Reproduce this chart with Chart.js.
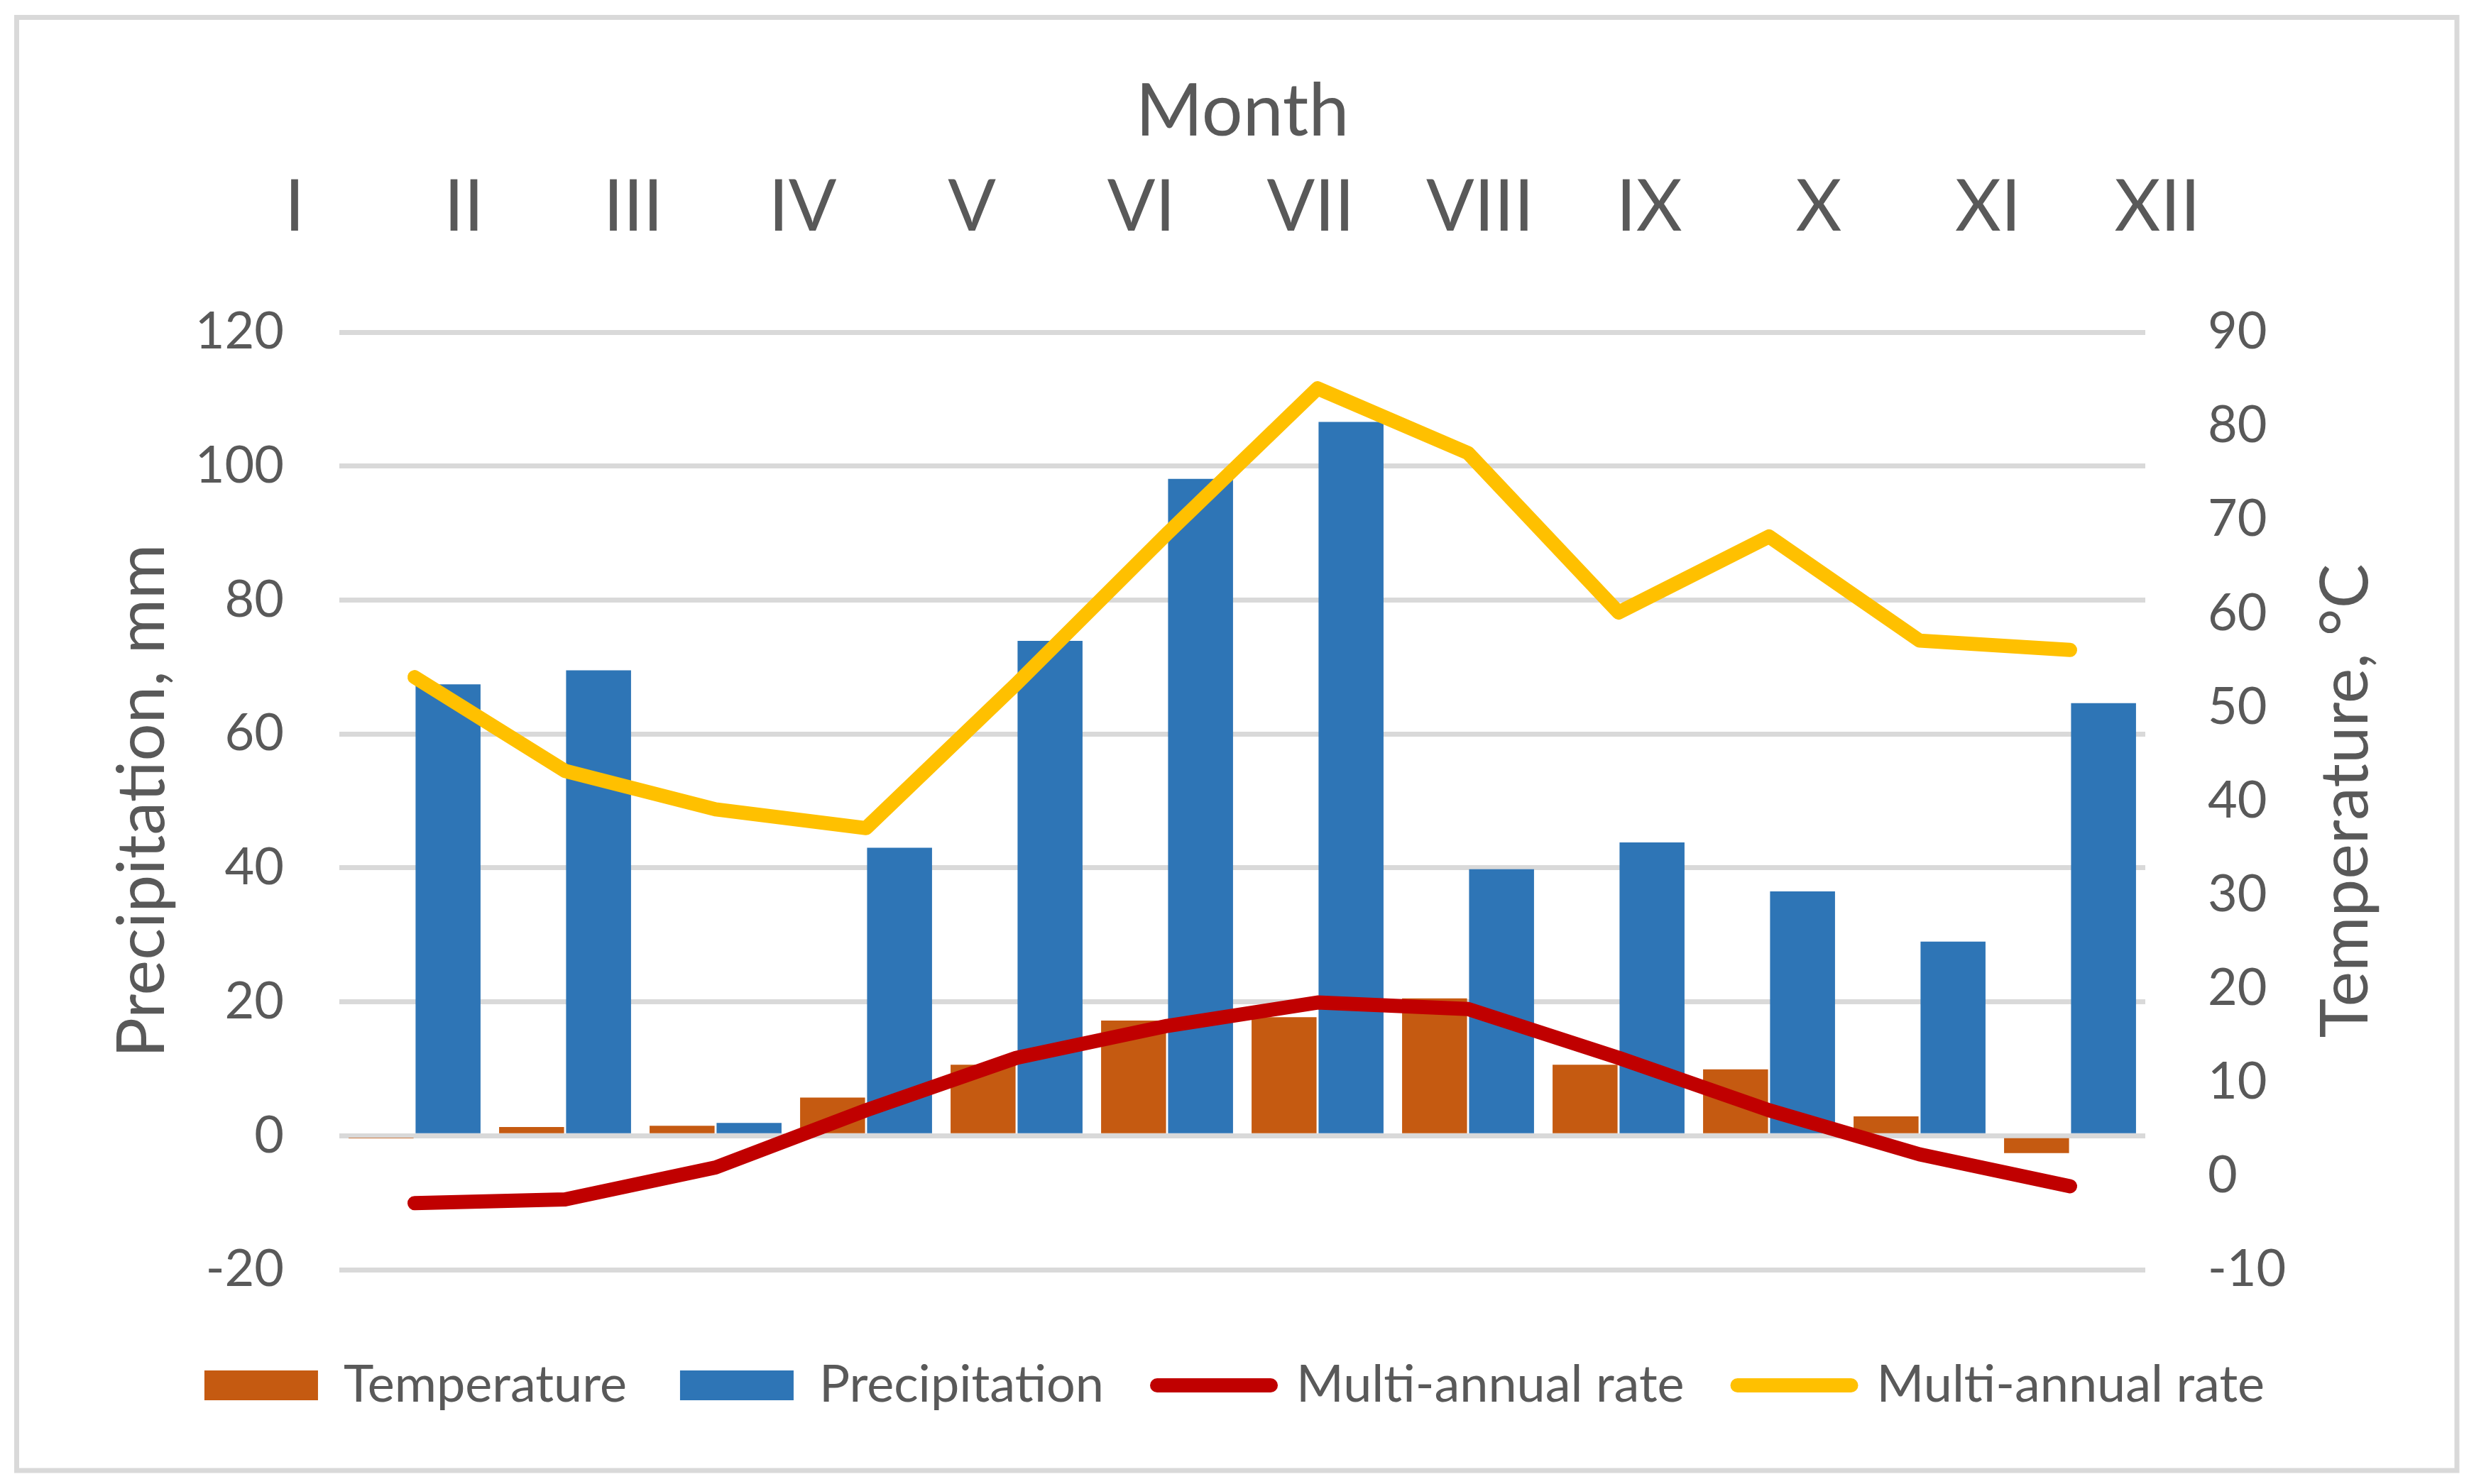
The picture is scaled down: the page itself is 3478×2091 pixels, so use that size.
<!DOCTYPE html>
<html>
<head>
<meta charset="utf-8">
<title>Temperature and precipitation</title>
<script src="https://cdn.jsdelivr.net/npm/chart.js@4.4.1/dist/chart.umd.min.js"></script>
<style>
  html, body { margin: 0; padding: 0; background: #fff; }
  #wrap { width: 3478px; height: 2091px; }
</style>
</head>
<body>
<div id="wrap"><canvas id="grafico"></canvas></div>
<script>
const months = ['I', 'II', 'III', 'IV', 'V', 'VI', 'VII', 'VIII', 'IX', 'X', 'XI', 'XII'];
const temperature = [-0.3, 1.3, 1.5, 5.7, 10.6, 17.2, 17.7, 20.5, 10.6, 9.9, 2.9, -2.6];
const precipitation = [67.4, 69.5, 1.9, 43.0, 73.9, 98.1, 106.6, 39.8, 43.8, 36.5, 29.0, 64.6];
const tempRate = [-2.9, -2.5, 0.9, 7.0, 12.6, 16.0, 18.5, 17.8, 12.6, 7.0, 2.3, -1.1];
const precipRate = [53.2, 43.2, 39.1, 37.1, 52.5, 68.5, 84.0, 77.1, 60.1, 68.2, 57.1, 56.1];
const leftTicks = [-20, 0, 20, 40, 60, 80, 100, 120];
const rightTicks = [-10, 0, 10, 20, 30, 40, 50, 60, 70, 80, 90];

const gris = '#595959';
Chart.defaults.font.family = 'Lato';
Chart.defaults.color = gris;

// white background and the light frame round the chart
const marco = {
    id: 'marco',
    beforeDraw(chart) {
        const ctx = chart.ctx;
        ctx.save();
        ctx.fillStyle = '#ffffff';
        ctx.fillRect(0, 0, chart.width, chart.height);
        ctx.strokeStyle = '#d9d9d9';
        ctx.lineWidth = 7;
        ctx.strokeRect(23.5, 24.5, chart.width - 40.5, chart.height - 43.5);
        ctx.restore();
    }
};

// right title reads bottom-to-top like the left one
const tituloDerecho = {
    id: 'tituloDerecho',
    afterDraw(chart) {
        const s = chart.scales.y2;
        const ctx = chart.ctx;
        ctx.save();
        ctx.translate(s.right - 143, (s.top + s.bottom) / 2);
        ctx.rotate(-Math.PI / 2);
        ctx.font = '94px Lato';
        ctx.fillStyle = gris;
        ctx.textAlign = 'center';
        ctx.textBaseline = 'middle';
        ctx.fillText('Temperature, °C', 0, 0);
        ctx.restore();
    }
};

const ctx = document.getElementById('grafico').getContext('2d');
window.chart = new Chart(ctx, {
    data: {
        labels: months,
        datasets: [
            {
                type: 'bar',
                label: 'Temperature',
                data: temperature,
                backgroundColor: '#C55A11',
                yAxisID: 'y',
                order: 1
            },
            {
                type: 'bar',
                label: 'Precipitation',
                data: precipitation,
                backgroundColor: '#2E75B6',
                yAxisID: 'y',
                order: 1
            },
            {
                type: 'line',
                label: 'Multi-annual rate',
                data: tempRate,
                borderColor: '#C00000',
                backgroundColor: '#C00000',
                borderWidth: 20,
                borderCapStyle: 'round',
                borderJoinStyle: 'round',
                pointRadius: 0,
                tension: 0,
                yAxisID: 'y2',
                order: 0
            },
            {
                type: 'line',
                label: 'Multi-annual rate',
                data: precipRate,
                borderColor: '#FFC000',
                backgroundColor: '#FFC000',
                borderWidth: 20,
                borderCapStyle: 'round',
                borderJoinStyle: 'round',
                pointRadius: 0,
                tension: 0,
                yAxisID: 'y2',
                order: 0
            }
        ]
    },
    options: {
        responsive: true,
        maintainAspectRatio: false,
        animation: false,
        layout: { padding: { left: 30, right: 30, top: 0, bottom: 93 } },
        datasets: { bar: { categoryPercentage: 0.89, barPercentage: 0.97 } },
        plugins: {
            tooltip: { enabled: false },
            legend: {
                position: 'bottom',
                labels: {
                    usePointStyle: true,
                    pointStyleWidth: 160,
                    boxHeight: 42,
                    padding: 75,
                    color: gris,
                    font: { size: 72 },
                    sort: (a, b) => a.datasetIndex - b.datasetIndex,
                    generateLabels: chart => Chart.defaults.plugins.legend.labels.generateLabels(chart).map(item => {
                        const ds = chart.data.datasets[item.datasetIndex];
                        if (ds.type === 'line') {
                            item.pointStyle = 'line';
                            item.lineWidth = 20;
                            item.lineCap = 'round';
                            item.strokeStyle = ds.borderColor;
                        } else {
                            item.pointStyle = 'rect';
                            item.lineWidth = 0;
                        }
                        return item;
                    })
                }
            }
        },
        scales: {
            x: {
                type: 'category',
                position: 'bottom',
                grid: { display: false },
                border: { display: false },
                ticks: { display: false },
                afterFit: s => { s.height = 52; }
            },
            xTop: {
                type: 'linear',
                position: 'top',
                min: 0.264,
                max: 10.929,
                grid: { display: false },
                border: { display: false },
                afterBuildTicks: s => { s.ticks = months.map((m, i) => ({ value: i })); },
                ticks: {
                    autoSkip: false,
                    maxRotation: 0,
                    padding: 107,
                    color: gris,
                    font: { size: 100 },
                    callback: (v, i) => months[i]
                },
                title: {
                    display: true,
                    text: 'Month',
                    color: gris,
                    font: { size: 102 },
                    padding: { top: 97, bottom: 0 }
                },
                afterFit: s => { s.height = 468; }
            },
            y: {
                position: 'left',
                min: leftTicks[0],
                max: leftTicks[leftTicks.length - 1],
                afterBuildTicks: s => { s.ticks = leftTicks.map(v => ({ value: v })); },
                grid: { color: '#d9d9d9', lineWidth: 7, drawTicks: false },
                border: { display: false },
                ticks: { padding: 78, color: gris, font: { size: 72 } },
                title: {
                    display: true,
                    text: 'Precipitation, mm',
                    color: gris,
                    font: { size: 94 },
                    padding: { top: 114, bottom: 0 }
                },
                afterFit: s => { s.width = 448; }
            },
            y2: {
                position: 'right',
                min: rightTicks[0],
                max: rightTicks[rightTicks.length - 1],
                afterBuildTicks: s => { s.ticks = rightTicks.map(v => ({ value: v })); },
                grid: { display: false },
                border: { display: false },
                ticks: { padding: 80, color: gris, font: { size: 72 } },
                afterFit: s => { s.width = 426; }
            }
        }
    },
    plugins: [marco, tituloDerecho]
});
</script>
</body>
</html>
